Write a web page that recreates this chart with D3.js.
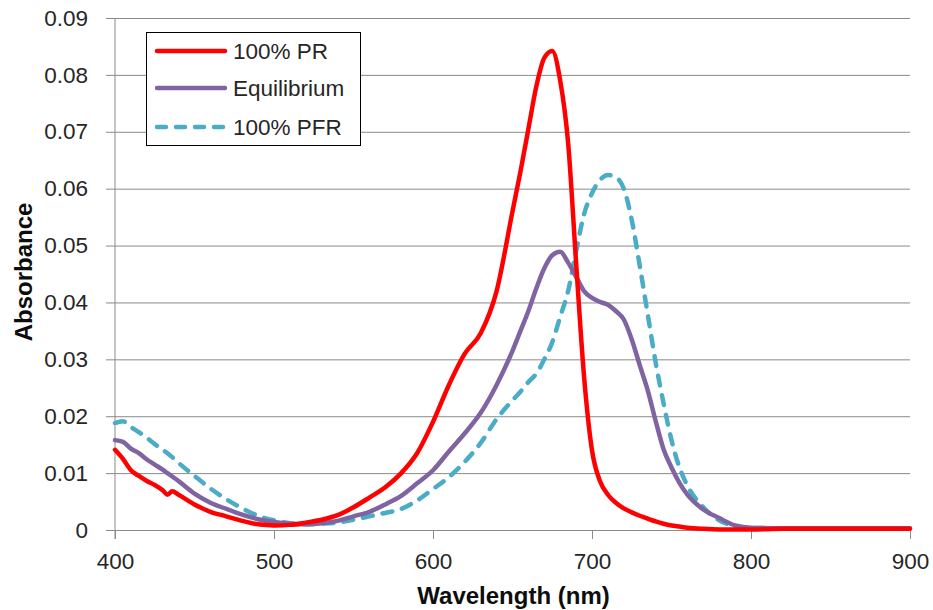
<!DOCTYPE html>
<html>
<head>
<meta charset="utf-8">
<script src="https://cdn.jsdelivr.net/npm/d3@7"></script>
<style>
  html, body { margin: 0; padding: 0; background: #fff; }
  svg { display: block; font-family: "Liberation Sans", Arial, sans-serif; }
</style>
</head>
<body>
<svg id="chart" width="933" height="610"></svg>
<script>
const wavelengths = [400,405,410,415,420,425,430,433,436,440,450,460,470,480,490,500,510,520,530,540,550,560,570,580,590,600,610,620,630,640,650,655,660,665,670,675,680,685,690,695,700,705,710,715,720,725,730,735,740,745,750,755,760,770,780,790,800,820,850,880,900];

const pr = [0.0141,0.0125,0.0105,0.0095,0.0086,0.0079,0.0070,0.0062,0.0068,0.0062,0.0045,0.0032,0.0024,0.0016,0.0010,0.0008,0.0009,0.0013,0.0018,0.0026,0.0040,0.0057,0.0075,0.0100,0.0135,0.0190,0.0255,0.0310,0.0346,0.0420,0.0560,0.0630,0.0705,0.0780,0.0830,0.0842,0.0790,0.0680,0.0470,0.0270,0.0140,0.0086,0.0062,0.0048,0.0038,0.0031,0.0025,0.0020,0.0015,0.0011,0.0008,0.0006,0.0004,0.0002,0.0001,0.0001,0.0001,0.0002,0.0002,0.0002,0.0002];

const equilibrium = [0.0158,0.0155,0.0143,0.0135,0.0124,0.0115,0.0106,0.0100,0.0094,0.0086,0.0064,0.0048,0.0037,0.0027,0.0019,0.0014,0.0011,0.0010,0.0012,0.0016,0.0024,0.0032,0.0045,0.0060,0.0082,0.0105,0.0138,0.0170,0.0206,0.0255,0.0315,0.0350,0.0385,0.0425,0.0460,0.0483,0.0489,0.0470,0.0445,0.0420,0.0408,0.0401,0.0396,0.0385,0.0370,0.0335,0.0290,0.0246,0.0192,0.0142,0.0110,0.0083,0.0062,0.0036,0.0021,0.0008,0.0004,0.0003,0.0003,0.0003,0.0003];

const pfr = [0.0188,0.0191,0.0181,0.0172,0.0162,0.0151,0.0141,0.0135,0.0128,0.0118,0.0095,0.0073,0.0054,0.0038,0.0025,0.0017,0.0012,0.0010,0.0011,0.0013,0.0018,0.0024,0.0030,0.0037,0.0052,0.0072,0.0093,0.0120,0.0153,0.0195,0.0228,0.0243,0.0260,0.0275,0.0300,0.0330,0.0375,0.0420,0.0490,0.0555,0.0592,0.0615,0.0624,0.0620,0.0600,0.0545,0.0465,0.0380,0.0295,0.0223,0.0158,0.0110,0.0078,0.0040,0.0017,0.0007,0.0004,0.0003,0.0003,0.0003,0.0003];

const xTicks = [400,500,600,700,800,900];
const yTicks = [0,0.01,0.02,0.03,0.04,0.05,0.06,0.07,0.08,0.09];
const seriesNames = ["100% PR","Equilibrium","100% PFR"];
const seriesColors = ["#FF0000","#8064A2","#4BACC6"];

const svg = d3.select("#chart");
const L = 115, R = 910, T = 18, B = 530;
const x = d3.scaleLinear().domain([400,900]).range([L,R]);
const y = d3.scaleLinear().domain([0,0.09]).range([B,T]);
const gridColor = "#8a8a8a";

const yAxis = svg.append("g").attr("transform",`translate(${L},0)`)
  .call(d3.axisLeft(y).tickValues(yTicks).tickSize(9).tickPadding(18)
    .tickFormat(d => d === 0 ? "0" : d3.format(".2f")(d)));
yAxis.select(".domain").remove();
yAxis.selectAll(".tick line").attr("stroke", gridColor).attr("x1",-9).attr("x2", R - L);
yAxis.selectAll(".tick text").attr("font-size", 22.5).attr("fill","#262626")
  .attr("font-family","Liberation Sans, Arial, sans-serif");

const xAxis = svg.append("g").attr("transform",`translate(0,${B})`)
  .call(d3.axisBottom(x).tickValues(xTicks).tickSize(9).tickPadding(14).tickFormat(d3.format("d")));
xAxis.select(".domain").remove();
xAxis.selectAll(".tick line").attr("stroke", gridColor);
xAxis.selectAll(".tick text").attr("font-size", 22.5).attr("fill","#262626")
  .attr("font-family","Liberation Sans, Arial, sans-serif");

svg.append("line").attr("x1",L).attr("x2",L).attr("y1",T).attr("y2",B+9)
  .attr("stroke",gridColor).attr("stroke-width",1);

const allSeries = [pr, equilibrium, pfr];
const line = d3.line().x((d,i) => x(wavelengths[i])).y(d => y(d)).curve(d3.curveMonotoneX);
[2,1,0].forEach(k => {
  svg.append("path").datum(allSeries[k])
    .attr("d", line)
    .attr("fill","none")
    .attr("stroke", seriesColors[k])
    .attr("stroke-width", 4.5)
    .attr("stroke-linejoin","round")
    .attr("stroke-linecap","round")
    .attr("stroke-dasharray", k === 2 ? "10,10" : null);
});

svg.append("text").attr("x",(L+R)/2 + 1).attr("y",604).attr("text-anchor","middle")
  .attr("font-size",24).attr("font-weight","bold").attr("fill","#0d0d0d")
  .text("Wavelength (nm)");
svg.append("text").attr("transform",`translate(32,${272}) rotate(-90)`).attr("text-anchor","middle")
  .attr("font-size",24).attr("font-weight","bold").attr("fill","#0d0d0d")
  .text("Absorbance");

const lg = svg.append("g");
lg.append("rect").attr("x",146.5).attr("y",32.5).attr("width",214).attr("height",113)
  .attr("fill","#fff").attr("stroke","#000").attr("stroke-width",1);
const rowY = [51,88,127];
seriesNames.forEach((n,i) => {
  lg.append("line").attr("x1",157).attr("x2",225).attr("y1",rowY[i]).attr("y2",rowY[i])
    .attr("stroke",seriesColors[i]).attr("stroke-width",4.5).attr("stroke-linecap","round")
    .attr("stroke-dasharray", i === 2 ? "9,10" : null);
  lg.append("text").attr("x",233).attr("y",rowY[i]).attr("dy","0.36em")
    .attr("font-size",22.5).attr("fill","#262626").text(n);
});
</script>
</body>
</html>
